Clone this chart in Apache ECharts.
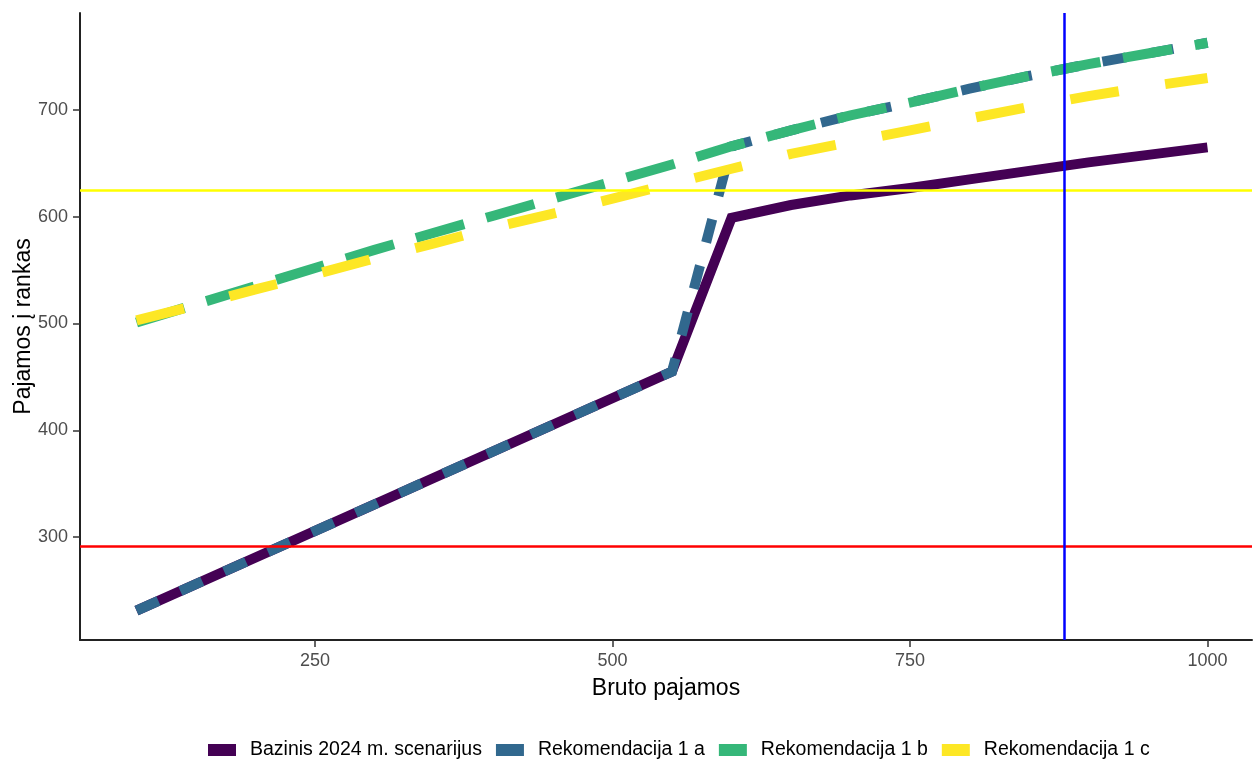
<!DOCTYPE html>
<html>
<head>
<meta charset="utf-8">
<script src="https://cdn.jsdelivr.net/npm/echarts@6/dist/echarts.min.js"></script>
<style>html,body{margin:0;padding:0;background:#fff;}#chart{width:1254px;height:760px;}</style>
</head>
<body>
<div id="chart"></div>
<script>
// ---- data ----
const seriesNames = ["Bazinis 2024 m. scenarijus", "Rekomendacija 1 a", "Rekomendacija 1 b", "Rekomendacija 1 c"];
const baseX = [100, 550, 600, 650, 700, 750, 800, 850, 900, 950, 1000];
const baseY = [231, 455, 599, 611, 620, 627, 635, 643, 651, 658, 665];
const rec1aX = [100, 550, 600, 650, 700, 750, 800, 850, 900, 950, 1000];
const rec1aY = [231, 455, 666, 681, 695, 707, 720, 732, 743, 753, 763];
const gridX = [100, 150, 200, 250, 300, 350, 400, 450, 500, 550, 600, 650, 700, 750, 800, 850, 900, 950, 1000];
const rec1bY = [501, 518, 535, 552, 569, 585, 601, 617, 633, 649, 666, 681, 695, 707, 720, 732, 743, 753, 763];
const rec1cY = [503, 517, 532, 546, 561, 575, 590, 603, 617, 631, 645, 659, 670, 681, 692, 703, 713, 722, 730];
const redLineY = 291;
const yellowLineY = 625;
const blueLineX = 880;
const xTicks = [250, 500, 750, 1000];
const yTicks = [300, 400, 500, 600, 700];
const xRange = [52.5, 1037.4];
const yRange = [203.5, 790.9];

const colors = ["#440154", "#31688E", "#35B779", "#FDE725"];
const FONT = "'Liberation Sans', Arial, sans-serif";

function pairs(xs, ys) { return xs.map((x, i) => [x, ys[i]]); }

const chart = echarts.init(document.getElementById('chart'), null, {renderer: 'canvas'});

function lineSeries(name, data, color, dash) {
  return {
    name: name,
    type: 'line',
    data: data,
    showSymbol: false,
    symbol: 'none',
    color: color,
    itemStyle: {color: color},
    lineStyle: {color: color, width: 10, type: dash || 'solid', cap: 'butt', join: 'miter'},
    emphasis: {disabled: true},
    silent: true
  };
}

const option = {
  animation: false,
  backgroundColor: '#ffffff',
  textStyle: {fontFamily: FONT},
  grid: {left: 80, right: 2, top: 13, bottom: 120, containLabel: false, outerBoundsMode: 'none'},
  xAxis: {
    type: 'value',
    min: xRange[0], max: xRange[1],
    name: 'Bruto pajamos',
    nameLocation: 'middle',
    nameGap: 37,
    nameMoveOverlap: false,
    nameTextStyle: {color: '#000', fontSize: 23, fontFamily: FONT},
    axisLine: {show: true, onZero: false, lineStyle: {color: '#222', width: 2}},
    axisTick: {show: true, length: 7, customValues: xTicks, lineStyle: {color: '#333', width: 1.5}},
    axisLabel: {customValues: xTicks, color: '#4d4d4d', fontSize: 18, margin: 12, fontFamily: FONT,
      formatter: v => String(v)},
    splitLine: {show: false}
  },
  yAxis: {
    type: 'value',
    min: yRange[0], max: yRange[1],
    name: 'Pajamos į rankas',
    nameLocation: 'middle',
    nameGap: 45,
    nameMoveOverlap: false,
    nameTextStyle: {color: '#000', fontSize: 23, fontFamily: FONT},
    axisLine: {show: true, onZero: false, lineStyle: {color: '#222', width: 2}},
    axisTick: {show: true, length: 7, customValues: yTicks, lineStyle: {color: '#333', width: 1.5}},
    axisLabel: {customValues: yTicks, color: '#4d4d4d', fontSize: 18, margin: 12, fontFamily: FONT,
      formatter: v => String(v)},
    splitLine: {show: false}
  },
  legend: {
    data: seriesNames,
    left: 208,
    top: 740,
    padding: 0,
    orient: 'horizontal',
    icon: 'rect',
    itemWidth: 28,
    itemHeight: 12,
    itemGap: 14,
    textStyle: {color: '#000', fontSize: 19.5, fontFamily: FONT, padding: [0, 0, 0, 9], lineHeight: 20},
    selectedMode: false
  },
  series: [
    lineSeries(seriesNames[0], pairs(baseX, baseY), colors[0], 'solid'),
    lineSeries(seriesNames[1], pairs(rec1aX, rec1aY), colors[1], [24, 24]),
    lineSeries(seriesNames[2], pairs(gridX, rec1bY), colors[2], [50, 23]),
    lineSeries(seriesNames[3], pairs(gridX, rec1cY), colors[3], [49, 47]),
    {
      name: 'ref',
      type: 'line',
      data: [],
      z: 10,
      silent: true,
      markLine: {
        silent: true,
        symbol: ['none', 'none'],
        animation: false,
        label: {show: false},
        emphasis: {disabled: true},
        data: [
          {yAxis: redLineY, lineStyle: {color: '#FF0000', width: 2.5, type: 'solid'}},
          {yAxis: yellowLineY, lineStyle: {color: '#FFFF00', width: 2.5, type: 'solid'}},
          {xAxis: blueLineX, lineStyle: {color: '#0000FF', width: 2.5, type: 'solid'}}
        ]
      }
    }
  ]
};
chart.setOption(option);
</script>
</body>
</html>
